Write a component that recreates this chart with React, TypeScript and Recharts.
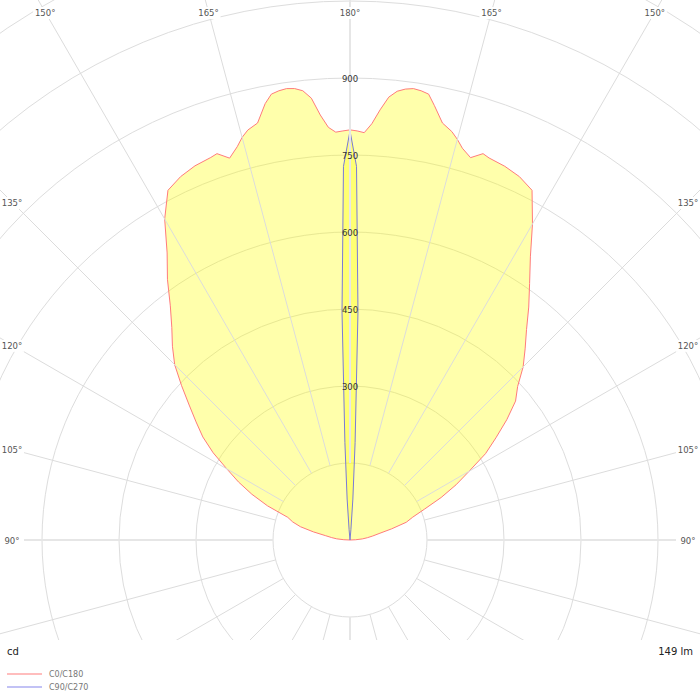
import React from 'react';
import { RadarChart, Radar, PolarGrid, PolarAngleAxis, PolarRadiusAxis } from 'recharts';

// gamma angles (deg), 180 = straight up, 90 = horizontal
const GAMMA = [
  90, 92.5, 95, 97.5, 100, 102.5, 105, 107.5, 110, 112.5, 115, 117.5, 120, 122.5, 125,
  127.5, 130, 132.5, 135, 137.5, 140, 142.5, 145, 147.5, 150, 152.5, 155, 157.5, 160, 161,
  162.5, 164, 165, 166, 167.5, 169, 170, 171, 172, 173, 174, 175, 176, 177, 178, 179, 180,
];

// candela values, one per GAMMA entry
const C180 = [
  0, 12, 26, 36, 48, 73, 100, 117, 129, 174, 211, 245, 277, 316, 350,
  378, 409, 445, 483, 512, 540, 575, 620, 663, 722, 768, 781, 789, 793, 796,
  780, 797, 812, 823, 832, 866, 882, 886, 888, 886, 880, 864, 830, 805, 795, 797, 799,
];
const C0 = [
  0, 11, 24, 34, 45, 58, 84, 115, 130, 157, 196, 233, 268, 313, 347,
  385, 421, 443, 477, 505, 535, 572, 610, 654, 711, 768, 781, 788, 792, 796,
  781, 794, 808, 820, 832, 862, 882, 886, 888, 885, 879, 866, 840, 812, 794, 797, 799,
];
const C270 = [
  0, 0, 0, 0, 0, 0, 0, 0, 0, 0, 0, 0, 0, 0, 0,
  0, 0, 0, 0, 0, 0, 0, 0, 0, 0, 0, 0, 0, 0, 0,
  0, 0, 0, 0, 0, 0, 0, 0, 0, 0, 0, 20, 80, 190, 445, 728, 797,
];
const C90 = [
  0, 0, 0, 0, 0, 0, 0, 0, 0, 0, 0, 0, 0, 0, 0,
  0, 0, 0, 0, 0, 0, 0, 0, 0, 0, 0, 0, 0, 0, 0,
  0, 0, 0, 0, 0, 0, 0, 0, 0, 0, 0, 20, 80, 190, 445, 728, 797,
];

const SERIES = ['C0/C180', 'C90/C270'];
const RING_LABELS = [300, 450, 600, 750, 900];
const ANGLE_TICKS = [0, 15, 30, 45, 60, 75, 90, 105, 120, 135, 150, 165, 180, 195, 210, 225, 240, 255, 270, 285, 300, 315, 330, 345];
const UNIT = 'cd';
const FLUX = '149 lm';

const R_MAX = 1200;
const SPOKE_FROM = 150;

const W = 700;
const H = 640;
const CX = 350;
const CY = 540;
const OUTER = 616;
const INSET = 12;
const FONT = 'DejaVu Sans, sans-serif';

// left half: angle = gamma, right half: angle = 360 - gamma
const ROWS = [
  ...GAMMA.map((g, i) => ({ angle: g, red: C180[i], blue: C270[i] })),
  ...GAMMA.map((g, i) => ({ angle: 360 - g, red: C0[i], blue: C90[i] }))
    .filter((r) => r.angle !== 180)
    .reverse(),
];

function AngleTick(props: any) {
  const { payload } = props;
  const theta = payload.value;
  const a = (payload.coordinate * Math.PI) / 180;
  const ux = Math.cos(a);
  const uy = -Math.sin(a);
  const r0 = (SPOKE_FROM / R_MAX) * OUTER;
  const main = theta % 90 === 0;
  let label = null;
  if (theta >= 90 && theta <= 270) {
    const gamma = theta <= 180 ? theta : 360 - theta;
    const tx = ux < -1e-6 ? (CX - INSET) / -ux : ux > 1e-6 ? (W - INSET - CX) / ux : Infinity;
    const ty = uy < -1e-6 ? (CY - INSET) / -uy : Infinity;
    const t = Math.min(tx, ty);
    const lx = CX + ux * t;
    const ly = CY + uy * t + 1;
    label = (
      <g>
        <rect x={lx - 12} y={ly - 6} width={24} height={12} fill="#fff" />
        <text x={lx} y={ly} textAnchor="middle" dominantBaseline="central" fontSize={8.5} fill="#555" fontFamily={FONT}>
          {gamma}°
        </text>
      </g>
    );
  }
  return (
    <g>
      <line
        x1={CX + ux * r0}
        y1={CY + uy * r0}
        x2={CX + ux * 1000}
        y2={CY + uy * 1000}
        stroke={main ? '#e6e6e6' : '#dcdcdc'}
        strokeWidth={main ? 2 : 1}
      />
      {label}
    </g>
  );
}

function RadiusTick(props: any) {
  const { x, y, payload } = props;
  if (!RING_LABELS.includes(payload.value)) return <g />;
  return (
    <text x={x} y={y + 1} textAnchor="middle" dominantBaseline="central" fontSize={8.5} fill="#333" fontFamily={FONT}>
      {payload.value}
    </text>
  );
}

export default function App() {
  return (
    <div style={{ position: 'absolute', left: 0, top: 0, width: 700, height: 700, background: '#fff' }}>
      <RadarChart
        width={W}
        height={H}
        data={ROWS}
        cx={CX}
        cy={CY}
        outerRadius={OUTER}
        startAngle={-90}
        endAngle={-450}
        margin={{ top: 0, right: 0, bottom: 0, left: 0 }}
      >
        <PolarGrid gridType="circle" radialLines={false} stroke="#dddddd" />
        <PolarAngleAxis
          dataKey="angle"
          type="number"
          domain={[0, 360]}
          ticks={ANGLE_TICKS}
          tick={AngleTick}
          tickLine={false}
          axisLine={false}
        />
        <Radar
          dataKey="red"
          stroke="#ff7b7b"
          strokeWidth={1}
          fill="#ffff00"
          fillOpacity={0.33}
          dot={false}
          isAnimationActive={false}
        />
        <Radar
          dataKey="blue"
          stroke="#7a7ad8"
          strokeWidth={1}
          fill="#ffff00"
          fillOpacity={0.33}
          dot={false}
          isAnimationActive={false}
        />
        <PolarRadiusAxis
          angle={90}
          type="number"
          domain={[0, R_MAX]}
          tickCount={9}
          tick={RadiusTick}
          tickLine={false}
          axisLine={false}
        />
      </RadarChart>
      <svg width={700} height={60} style={{ display: 'block' }}>
        <text x={7} y={15} fontSize={10} fill="#222" fontFamily={FONT}>{UNIT}</text>
        <text x={693} y={15} textAnchor="end" fontSize={10} fill="#222" fontFamily={FONT}>{FLUX}</text>
        <line x1={7} y1={34} x2={42} y2={34} stroke="#ffbdbd" strokeWidth={2} />
        <text x={49} y={37} fontSize={8} fill="#777" fontFamily={FONT}>{SERIES[0]}</text>
        <line x1={7} y1={47} x2={42} y2={47} stroke="#c2c2f5" strokeWidth={2} />
        <text x={49} y={50} fontSize={8} fill="#777" fontFamily={FONT}>{SERIES[1]}</text>
      </svg>
    </div>
  );
}
